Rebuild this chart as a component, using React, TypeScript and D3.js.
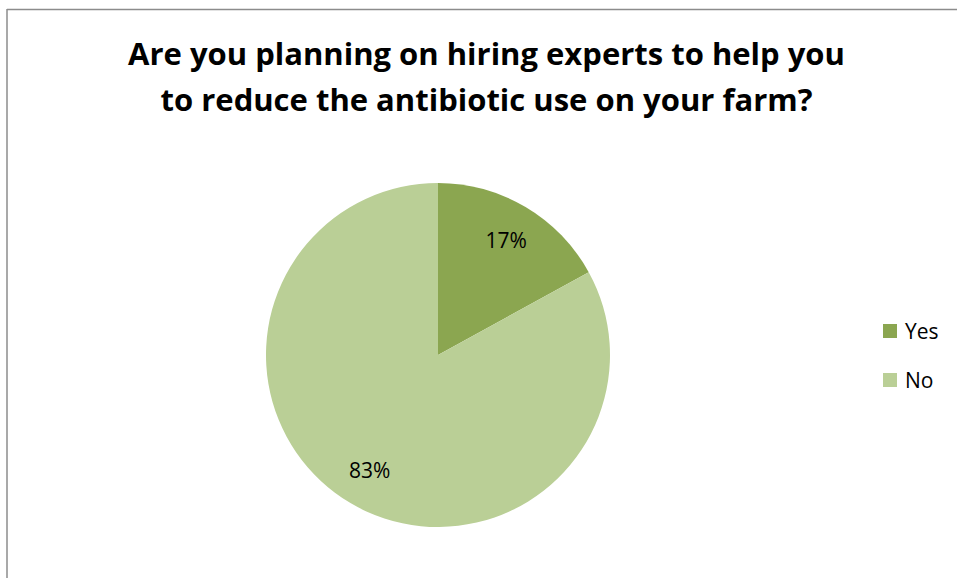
import React from "react";
import * as d3 from "d3";

const categories = ["Yes", "No"];
const values = [17, 83];
const labels = ["17%", "83%"];
const colors = ["#8BA650", "#BACF96"];
const titleLines = [
  "Are you planning on hiring experts to help you",
  "to reduce the antibiotic use on your farm?",
];

export default function App() {
  const W = 957;
  const H = 578;
  const cx = 438;
  const cy = 355;
  const r = 172;
  const pie = d3.pie<number>().sort(null).value((d) => d);
  const arcs = pie(values);
  const arc = d3.arc<d3.PieArcDatum<number>>().innerRadius(0).outerRadius(r);
  const labelArc = d3
    .arc<d3.PieArcDatum<number>>()
    .innerRadius(r * 0.78)
    .outerRadius(r * 0.78);
  const font = "'Open Sans', sans-serif";
  return (
    <svg
      width={W}
      height={H}
      style={{ position: "absolute", left: 0, top: 0, background: "#fff" }}
    >
      <rect x={0} y={0} width={W} height={H} fill="#fff" />
      <line x1={7} y1={9.5} x2={W} y2={9.5} stroke="#8c8c8c" strokeWidth={1.5} />
      <line x1={7} y1={9} x2={7} y2={H} stroke="#8c8c8c" strokeWidth={1.5} />
      {titleLines.map((t, i) => (
        <text
          key={i}
          x={486.5}
          y={65 + i * 46}
          textAnchor="middle"
          fontFamily={font}
          fontWeight="bold"
          fontSize={31}
          fill="#000"
        >
          {t}
        </text>
      ))}
      <g transform={`translate(${cx},${cy})`}>
        {arcs.map((a, i) => (
          <path key={i} d={arc(a) || ""} fill={colors[i]} />
        ))}
        {arcs.map((a, i) => {
          const [x, y] = labelArc.centroid(a);
          return (
            <text
              key={"l" + i}
              x={x}
              y={y}
              textAnchor="middle"
              dominantBaseline="central"
              fontFamily={font}
              fontSize={21}
              fill="#000"
            >
              {labels[i]}
            </text>
          );
        })}
      </g>
      {categories.map((c, i) => (
        <g key={c} transform={`translate(883,${324 + i * 49})`}>
          <rect x={0} y={0} width={14} height={14} fill={colors[i]} />
          <text
            x={22}
            y={7}
            dominantBaseline="central"
            fontFamily={font}
            fontSize={21}
            fill="#000"
          >
            {c}
          </text>
        </g>
      ))}
    </svg>
  );
}
